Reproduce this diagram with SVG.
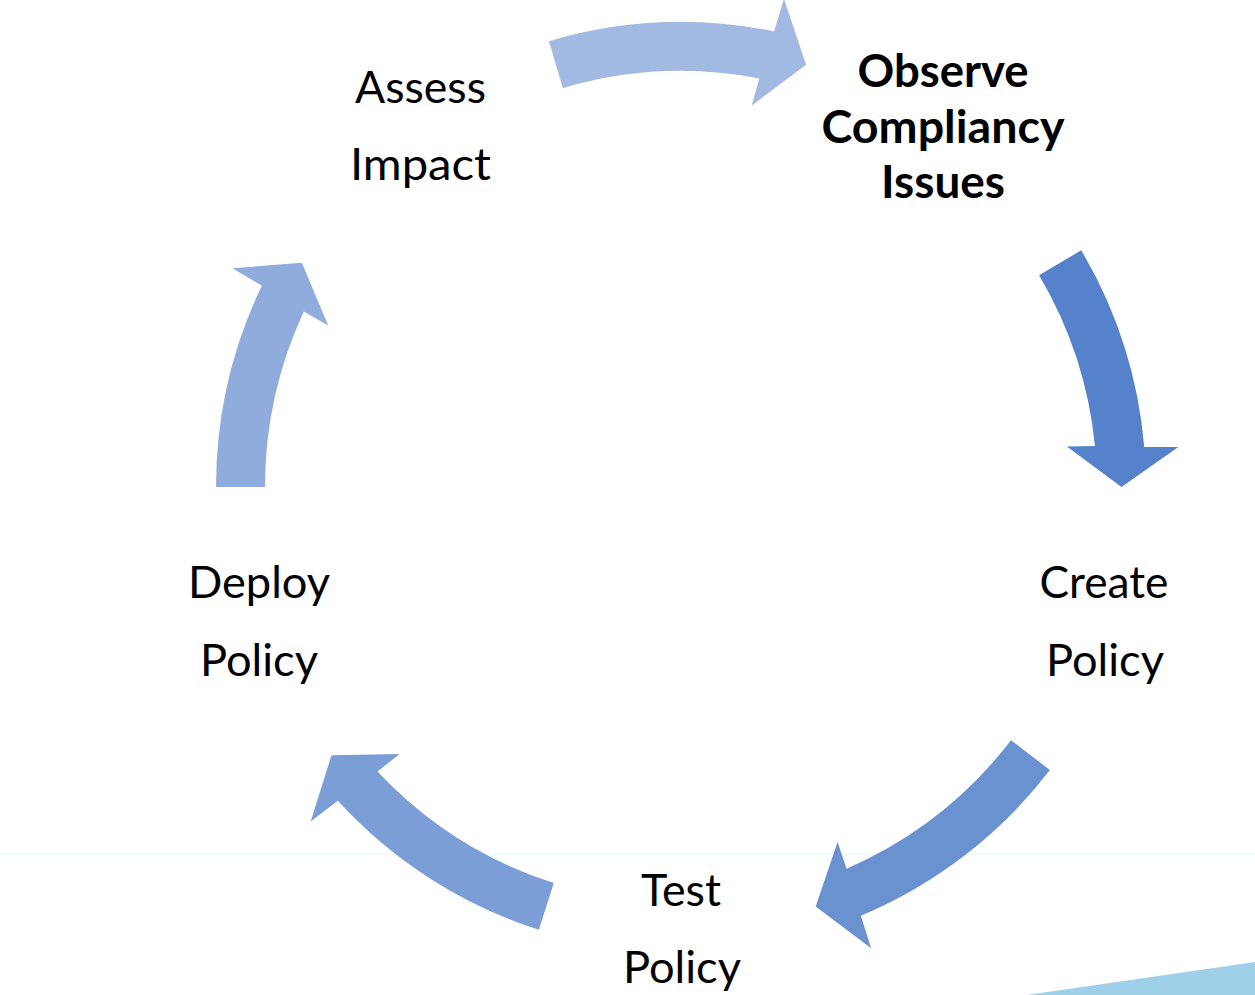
<svg xmlns="http://www.w3.org/2000/svg" width="1255" height="995" viewBox="0 0 1255 995">
<style>
.t{font-family:Lato,"Liberation Sans",sans-serif;font-size:45px;fill:#000;text-anchor:middle}
.b{font-weight:bold}
.a1{fill:#A2B9E1}
.a2{fill:#5682CB}
.a3{fill:#6A91D0}
.a4{fill:#7C9ED6}
.a5{fill:#8FACDC}
</style>
<rect x="0" y="0" width="1255" height="995" fill="#FFFFFF"/>
<line x1="0" y1="854.5" x2="1255" y2="854.5" stroke="#EAF4FB" stroke-width="1"/>
<polygon points="1027,995 1255,962 1255,995" fill="#9FCFE9"/>
<g id="connectors">
<path class="a1" d="M548.93,41.15 A465,465 0 0 1 774.10,31.42 L783.89,-1.28 L806.11,64.64 L751.71,105.5 L759.31,78.44 A416,416 0 0 0 562.85,88.13 Z"/>
<path class="a2" d="M1081.24,250.30 A465,465 0 0 1 1144.27,446.88 L1178.39,446.98 L1121.5,487 L1066.87,446.44 L1094.98,446.04 A416,416 0 0 0 1039.07,275.24 Z"/>
<path class="a3" d="M1049.91,770.07 A465,465 0 0 1 860.82,915.82 L871.15,948.35 L815.66,906.41 L837.58,842.00 L846.55,868.64 A416,416 0 0 0 1011.03,740.24 Z"/>
<path class="a4" d="M538.85,929.74 A465,465 0 0 1 337.80,800.75 L310.66,821.43 L331.53,755.16 L399.56,754.08 L377.50,771.50 A416,416 0 0 0 553.83,883.09 Z"/>
<path class="a5" d="M216,487 A465,465 0 0 1 261.82,285.72 L232.50,268.25 L301.84,262.77 L328.21,325.48 L303.85,311.45 A416,416 0 0 0 265,487 Z"/>
</g>
<g id="node-observe">
<text class="t b" x="943" y="87" textLength="171" lengthAdjust="spacingAndGlyphs">Observe</text>
<text class="t b" x="943" y="143" textLength="243" lengthAdjust="spacingAndGlyphs">Compliancy</text>
<text class="t b" x="943" y="198" textLength="124" lengthAdjust="spacingAndGlyphs">Issues</text>
</g>
<g id="node-create">
<text class="t" x="1104" y="598" textLength="129" lengthAdjust="spacingAndGlyphs">Create</text>
<text class="t" x="1105" y="676" textLength="118" lengthAdjust="spacingAndGlyphs">Policy</text>
</g>
<g id="node-test">
<text class="t" x="681" y="906" textLength="80" lengthAdjust="spacingAndGlyphs">Test</text>
<text class="t" x="682" y="983" textLength="118" lengthAdjust="spacingAndGlyphs">Policy</text>
</g>
<g id="node-deploy">
<text class="t" x="259" y="598" textLength="142" lengthAdjust="spacingAndGlyphs">Deploy</text>
<text class="t" x="259" y="676" textLength="118" lengthAdjust="spacingAndGlyphs">Policy</text>
</g>
<g id="node-assess">
<text class="t" x="420.5" y="103" textLength="131" lengthAdjust="spacingAndGlyphs">Assess</text>
<text class="t" x="420.5" y="180" textLength="141" lengthAdjust="spacingAndGlyphs">Impact</text>
</g>
</svg>
